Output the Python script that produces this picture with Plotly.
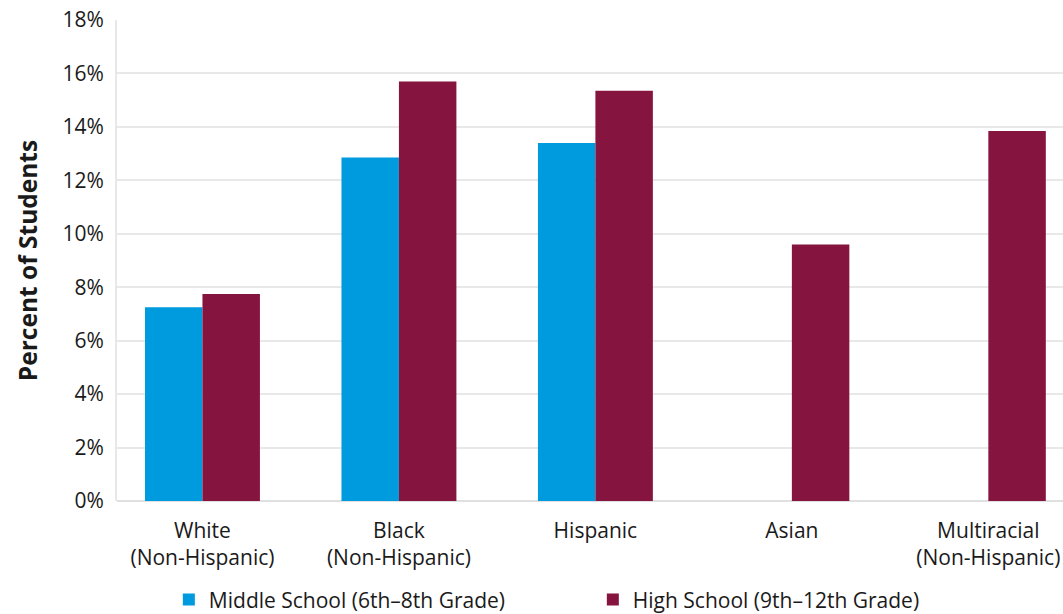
import plotly.graph_objects as go

# Data
categories = ["White<br>(Non-Hispanic)", "Black<br>(Non-Hispanic)", "Hispanic",
              "Asian", "Multiracial<br>(Non-Hispanic)"]
middle_school = [7.25, 12.85, 13.4, None, None]
high_school = [7.75, 15.7, 15.35, 9.6, 13.85]

BLUE = "#009ADE"
MAROON = "#85153F"
FONT = "Open Sans"

fig = go.Figure()
fig.add_trace(go.Bar(x=categories, y=middle_school, name="Middle School (6th–8th Grade)",
                     marker=dict(color=BLUE, line=dict(width=0))))
fig.add_trace(go.Bar(x=categories, y=high_school, name="High School (9th–12th Grade)",
                     marker=dict(color=MAROON, line=dict(width=0))))

fig.update_layout(
    width=1063, height=614,
    barmode="group", bargap=0.415, bargroupgap=0,
    plot_bgcolor="white", paper_bgcolor="white",
    margin=dict(l=117, r=0, t=20, b=113, autoexpand=False),
    font=dict(family=FONT, size=21, color="#1a1a1a"),
    showlegend=True,
    legend=dict(orientation="h", x=0.503, xanchor="center", y=-0.163, yanchor="top",
                font=dict(size=21), traceorder="normal", entrywidth=379),
)
fig.update_xaxes(
    range=[-0.435, 4.38], showgrid=False, showline=False, automargin=False,
    ticks="", ticklabelstandoff=15, tickfont=dict(size=21),
)
fig.update_yaxes(
    range=[0, 18], dtick=2, ticksuffix="%", automargin=False,
    showgrid=True, gridcolor="#E8E8E8", gridwidth=2,
    showline=True, linecolor="#E8E8E8", linewidth=2,
    zeroline=True, zerolinecolor="#E0E0E0", zerolinewidth=2,
    ticks="", ticklabelstandoff=7, tickfont=dict(size=21),
    title=dict(text="<b>Percent of Students</b>", font=dict(size=24.5), standoff=18),
)

# the page body has a default margin; drop it so the figure fills the window
fig.write_html("out.html", config={"displayModeBar": False},
               post_script="document.body.style.margin='0';")
